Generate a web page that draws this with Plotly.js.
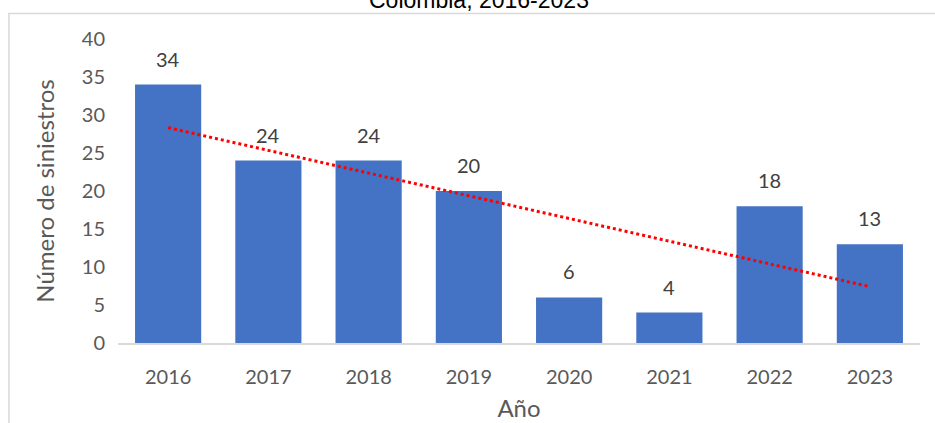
<!DOCTYPE html>
<html>
<head>
<meta charset="utf-8">
<script src="https://cdn.plot.ly/plotly-3.0.1.min.js"></script>
<style>
  html, body { margin: 0; padding: 0; background: #ffffff; }
  #chart { width: 935px; height: 423px; }
</style>
</head>
<body>
<div id="chart"></div>
<script>
const years = ['2016', '2017', '2018', '2019', '2020', '2021', '2022', '2023'];
const siniestros = [34, 24, 24, 20, 6, 4, 18, 13];
const yTickVals = [0, 5, 10, 15, 20, 25, 30, 35, 40];
const chartTitle = 'Colombia, 2016-2023';
const xTitle = 'Año';
const yTitle = 'Número de siniestros';

// Linear trendline (least squares) computed from the data
const n = siniestros.length;
const idx = siniestros.map((_, i) => i);
const mx = idx.reduce((a, b) => a + b, 0) / n;
const my = siniestros.reduce((a, b) => a + b, 0) / n;
let sxy = 0, sxx = 0;
idx.forEach((x, i) => { sxy += (x - mx) * (siniestros[i] - my); sxx += (x - mx) * (x - mx); });
const slope = sxy / sxx;
const trend = idx.map(x => my + slope * (x - mx));

const font = 'Lato, "Open Sans", sans-serif';

const bars = {
  type: 'bar',
  x: years,
  y: siniestros,
  marker: { color: '#4472C4' },
  width: 0.66,
  hoverinfo: 'x+y',
  showlegend: false
};

const trendLine = {
  type: 'scatter',
  mode: 'lines',
  x: years,
  y: trend,
  line: { color: '#FF0000', width: 3, dash: 'dot' },
  hoverinfo: 'skip',
  showlegend: false
};

// category axis positions are indices 0..n-1
const valueLabels = years.map((yr, i) => ({
  x: i, y: siniestros[i], xref: 'x', yref: 'y',
  text: String(siniestros[i]),
  showarrow: false,
  xanchor: 'center', yanchor: 'bottom',
  yshift: 12,
  font: { family: font, size: 20, color: '#404040' }
}));

const layout = {
  width: 935,
  height: 423,
  margin: { l: 118, r: 15, t: 39, b: 80 },
  paper_bgcolor: '#ffffff',
  plot_bgcolor: '#ffffff',
  font: { family: font, color: '#595959' },
  bargap: 0.34,
  xaxis: {
    type: 'category',
    categoryarray: years,
    range: [-0.5, years.length - 0.5],
    tickfont: { family: font, size: 20, color: '#595959' },
    showgrid: false,
    showline: true,
    linecolor: '#D9D9D9',
    linewidth: 2,
    ticks: '',
    ticklabelstandoff: 15,
    title: { text: xTitle, font: { family: font, size: 24, color: '#595959' }, standoff: 13 }
  },
  yaxis: {
    range: [0, 40],
    tickvals: yTickVals,
    tickfont: { family: font, size: 20, color: '#595959' },
    showgrid: false,
    zeroline: false,
    showline: false,
    ticks: '',
    ticklabelstandoff: 12,
    title: { text: yTitle, font: { family: font, size: 24, color: '#595959' }, standoff: 20 }
  },
  shapes: [{
    type: 'rect', xref: 'paper', yref: 'paper',
    x0: -0.136, x1: 1.2, y0: -0.6, y1: 1.084,
    line: { color: '#D9D9D9', width: 1.5 },
    fillcolor: 'rgba(0,0,0,0)',
    layer: 'below'
  }],
  annotations: [{
    text: chartTitle,
    xref: 'paper', yref: 'paper',
    x: 0.45, y: 1.079,
    xanchor: 'center', yanchor: 'bottom',
    showarrow: false,
    font: { family: '"Liberation Sans", Arial, sans-serif', size: 23, color: '#000000' }
  }].concat(valueLabels)
};

Plotly.newPlot('chart', [bars, trendLine], layout, { displayModeBar: false, staticPlot: true });
</script>
</body>
</html>
